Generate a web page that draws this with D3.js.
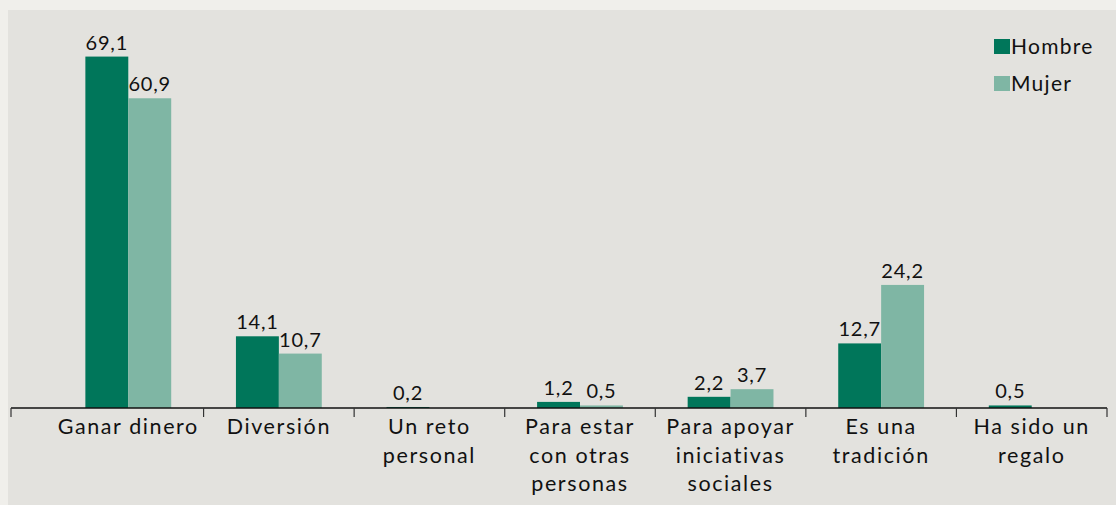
<!DOCTYPE html>
<html>
<head>
<meta charset="utf-8">
<script src="https://d3js.org/d3.v7.min.js"></script>
<style>
body { margin: 0; background: #f0efeb; }
#canvas svg { display: block; }
.lbl { font-family: Lato, sans-serif; fill: #111; }
</style>
</head>
<body>
<div id="canvas"></div>
<script>
var categories = ["Ganar dinero", "Diversión", "Un reto personal", "Para estar con otras personas",
                  "Para apoyar iniciativas sociales", "Es una tradición", "Ha sido un regalo"];
var tickLabels = [["Ganar dinero"], ["Diversión"], ["Un reto", "personal"], ["Para estar", "con otras", "personas"],
                  ["Para apoyar", "iniciativas", "sociales"], ["Es una", "tradición"], ["Ha sido un", "regalo"]];
var seriesNames = ["Hombre", "Mujer"];
var hombre = [69.1, 14.1, 0.2, 1.2, 2.2, 12.7, 0.5];
var mujer = [60.9, 10.7, 0, 0.5, 3.7, 24.2, 0];
var colors = ["#00765a", "#7fb6a4"];

var width = 1116, height = 505,
    axisLeft = 11,       // donde empieza la linea del eje
    baseY = 408;

var svg = d3.select("#canvas").append("svg")
    .attr("width", width).attr("height", height);

// fondo gris interior
svg.append("rect").attr("x", 8).attr("y", 10)
   .attr("width", width - 8).attr("height", height - 10)
   .attr("fill", "#e3e2de");

var x = d3.scaleBand().domain(categories).range([53, 1107])
    .paddingInner(0.43).paddingOuter(0.215);
var x1 = d3.scaleBand().domain(seriesNames).range([0, x.bandwidth()]);
var y = d3.scaleLinear().domain([0, 70]).range([baseY, 52]);

var series = [hombre, mujer];
series.forEach(function(vals, si) {
    var g = svg.append("g");
    var data = vals.map(function(v, i) { return {cat: categories[i], v: v}; });
    g.selectAll("rect").data(data).enter().append("rect")
        .attr("x", function(d) { return x(d.cat) + x1(seriesNames[si]); })
        .attr("y", function(d) { return y(d.v); })
        .attr("width", x1.bandwidth())
        .attr("height", function(d) { return baseY - y(d.v); })
        .attr("fill", colors[si]);
    g.selectAll("text").data(data.filter(function(d) { return d.v > 0; })).enter().append("text")
        .attr("class", "lbl")
        .attr("x", function(d) { return x(d.cat) + x1(seriesNames[si]) + x1.bandwidth() / 2; })
        .attr("y", function(d) { return y(d.v) - 7; })
        .attr("text-anchor", "middle")
        .attr("font-size", 20).attr("letter-spacing", 0.8)
        .text(function(d) { return String(d.v.toFixed(1)).replace(".", ","); });
});

// eje x
var half = x.step() * x.paddingInner() / 2;
var tickX = [axisLeft].concat(categories.slice(1).map(function(c) { return x(c) - half; }))
    .concat([x.range()[1]]);
svg.append("line").attr("x1", axisLeft).attr("x2", x.range()[1])
   .attr("y1", baseY).attr("y2", baseY)
   .attr("stroke", "#111").attr("stroke-width", 1.5);
svg.selectAll(".tick").data(tickX).enter().append("line")
   .attr("class", "tick")
   .attr("x1", function(d) { return d; }).attr("x2", function(d) { return d; })
   .attr("y1", baseY).attr("y2", baseY + 9)
   .attr("stroke", "#333").attr("stroke-width", 1.2);

categories.forEach(function(c, i) {
    var t = svg.append("text").attr("class", "lbl")
        .attr("text-anchor", "middle").attr("font-size", 21.5)
        .attr("letter-spacing", 1.6)
        .attr("y", 434);
    tickLabels[i].forEach(function(line, k) {
        t.append("tspan").attr("x", x(c) + x.bandwidth() / 2)
         .attr("dy", k === 0 ? 0 : 28.5).text(line);
    });
});

// leyenda
var legend = svg.append("g").attr("transform", "translate(994,39)");
seriesNames.forEach(function(s, i) {
    legend.append("rect").attr("x", 0).attr("y", i * 37)
        .attr("width", 16).attr("height", 15).attr("fill", colors[i]);
    legend.append("text").attr("class", "lbl")
        .attr("x", 17).attr("y", i * 37 + 15)
        .attr("font-size", 21).attr("letter-spacing", 1.3).text(s);
});
</script>
</body>
</html>
